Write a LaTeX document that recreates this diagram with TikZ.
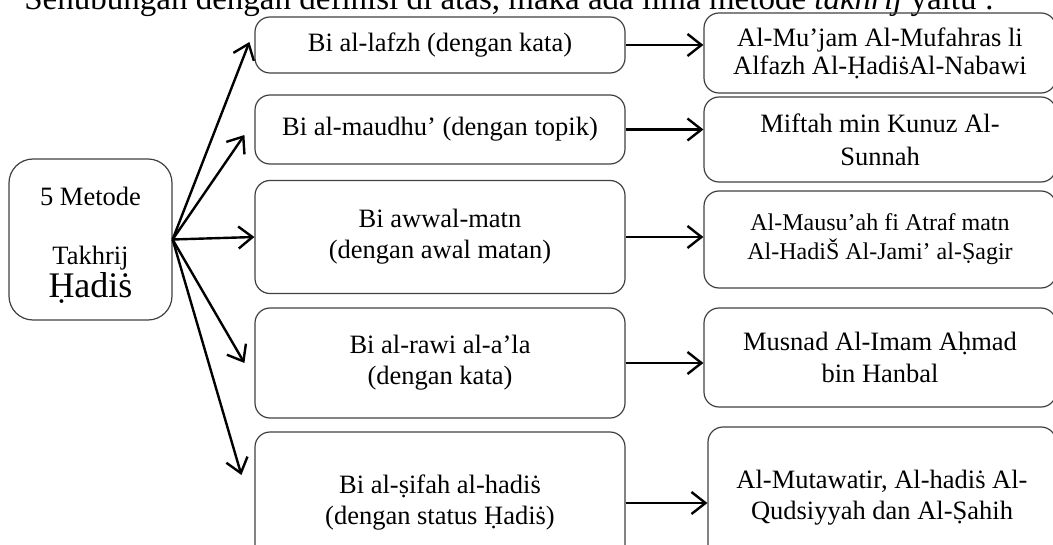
\documentclass[tikz,border=0pt]{standalone}
\usepackage{fontspec}
\setmainfont{Liberation Serif}
\usetikzlibrary{arrows.meta}

\begin{document}
\begin{tikzpicture}[x=0.5pt, y=-0.5pt,
    box/.style={draw=black!75, line width=0.6pt, rounded corners=7.5pt, align=center,
      inner sep=0pt, font=\fontsize{13.25}{15.5}\selectfont},
    arr/.style={-{Straight Barb[length=7pt,width=11pt]}, line width=1.2pt}]
  \useasboundingbox (0,0) rectangle (1053,545);
  \clip (0,0) rectangle (1053,545);
  \node[anchor=base west, inner sep=0pt, font=\fontsize{16.5}{19}\selectfont] (title) at (24,10)
    {Sehubungan dengan definisi di atas, maka ada lima metode \textit{takhrij} yaitu :};
  \node[box, rounded corners=12pt, minimum width=81.5pt, minimum height=80.5pt,
    font=\fontsize{13.25}{15}\selectfont] (src) at (90.5,239.5)
    {\rule{0pt}{15pt}5 Metode\\[14.5pt]Takhrij\\{\fontsize{18}{15}\selectfont Ḥadiṡ}};
  \node[box, minimum width=185pt, minimum height=28pt] (b1) at (440,45) {Bi al-lafzh (dengan kata)};
  \node[box, minimum width=185pt, minimum height=34.5pt] (b2) at (440,129.5) {Bi al-maudhu’ (dengan topik)};
  \node[box, minimum width=185pt, minimum height=56.5pt] (b3) at (440,237) {Bi awwal-matn\\(dengan awal matan)};
  \node[box, minimum width=185pt, minimum height=55pt] (b4) at (440,363) {Bi al-rawi al-a’la\\(dengan kata)};
  \node[box, minimum width=185pt, minimum height=71pt] (b5) at (440,503) {Bi al-ṣifah al-hadiṡ\\(dengan status Ḥadiṡ)};
  \node[box, minimum width=176pt, minimum height=40pt, font=\fontsize{13.25}{14}\selectfont] (r1) at (880,53)
    {Al-Mu’jam Al-Mufahras li\\Alfazh Al-ḤadiṡAl-Nabawi};
  \node[box, minimum width=176pt, minimum height=42.5pt, font=\fontsize{13.25}{16.5}\selectfont] (r2) at (880,139.5)
    {Miftah min Kunuz Al-\\Sunnah};
  \node[box, minimum width=176pt, minimum height=48.5pt, font=\fontsize{12}{14.5}\selectfont] (r3) at (880,239.5)
    {Al-Mausu’ah fi Atraf matn\\Al-HadiŠ Al-Jami’ al-Ṣagir};
  \node[box, minimum width=176pt, minimum height=49.5pt, font=\fontsize{13.25}{16}\selectfont] (r4) at (880,357.5)
    {Musnad Al-Imam Aḥmad\\bin Hanbal};
  \node[box, minimum width=174pt, minimum height=71pt] (r5) at (882,498)
    {Al-Mutawatir, Al-hadiṡ Al-\\Qudsiyyah dan Al-Ṣahih};
  \foreach \b/\dx/\dy in {b1/-2.5/1.5, b2/-5/-2.75, b3/0/0, b4/-5/0, b5/-6.5/14}
    \draw[arr] (src.east) -- ([xshift=\dx pt, yshift=\dy pt]\b.west);
  \foreach \i in {1,...,5}
    \draw[arr] (b\i.east) -- (b\i.east -| r\i.west);
\end{tikzpicture}
\end{document}
